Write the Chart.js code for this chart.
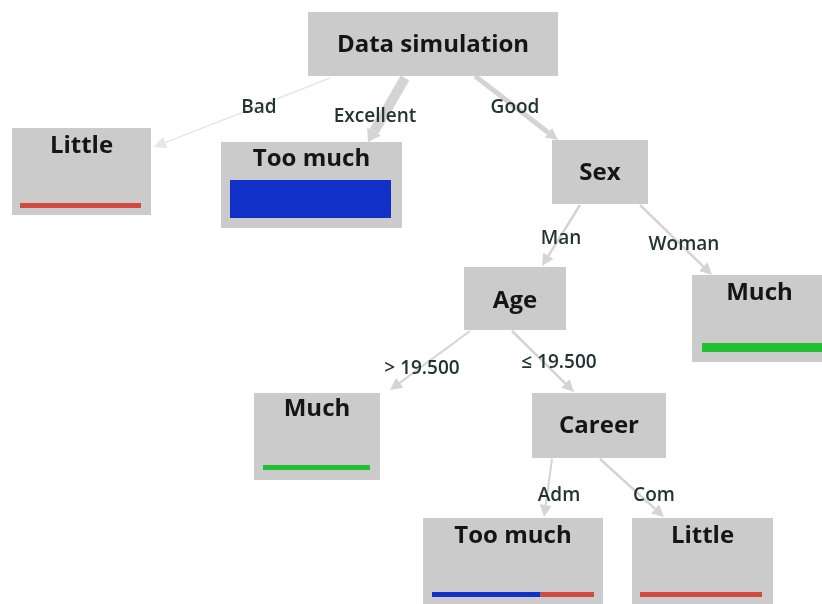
<!DOCTYPE html>
<html><head><meta charset="utf-8">
<script src="https://cdn.jsdelivr.net/npm/chart.js@4/dist/chart.umd.min.js"></script>
<style>html,body{margin:0;padding:0;background:#fff}canvas{display:block}</style>
</head><body>
<canvas id="c" width="822" height="604"></canvas>
<script>
// ---- data ----
const nodeNames = ['Data simulation','Little','Too much','Sex','Age','Much','Much','Career','Too much','Little'];
const nodeParent = [-1,0,0,0,3,3,4,4,7,7];
const edgeLabels = ['', 'Bad','Excellent','Good','Man','Woman','> 19.500','\u2264 19.500','Adm','Com'];
const edgeWeight = [0, 1.5, 10, 5, 2.5, 2.5, 2, 2.5, 2, 2.5];
const classNames = ['Too much','Much','Little'];
const classColors = ['#1030c8','#20c030','#d04a40'];
// class distribution per node (Too much, Much, Little); null = internal node
const distTooMuch = [null, 0, 1, null, null, 0, 0, null, 0.67, 0];
const distMuch    = [null, 0, 0, null, null, 1, 1, null, 0,    0];
const distLittle  = [null, 1, 0, null, null, 0, 0, null, 0.33, 1];

// ---- layout (chart units == pixels) ----
const layout = [
  {x:308,y:12,w:250,h:64},
  {x:12,y:128,w:139,h:87},
  {x:221,y:142,w:181,h:86},
  {x:552,y:140,w:96,h:64},
  {x:464,y:267,w:102,h:63},
  {x:692,y:275,w:135,h:87},
  {x:254,y:393,w:126,h:87},
  {x:532,y:393,w:134,h:65},
  {x:423,y:518,w:180,h:90},
  {x:632,y:518,w:141,h:90}
];
const titleY = [45,146,159,173,301,293,409,426,536,536];
const barBox = [null,{y:203,h:5,x0:20,x1:141},{y:180,h:38,x0:230,x1:391},null,null,
  {y:343,h:9,x0:702,x1:822},{y:465,h:5,x0:263,x1:370},null,{y:592,h:5,x0:432,x1:594},{y:592,h:5,x0:640,x1:762}];
const edgeGeom = [null,
  {a:[330,78],b:[154,147],lx:259,ly:108},
  {a:[405,78],b:[368,142],lx:375,ly:117},
  {a:[475,76],b:[558,140],lx:515,ly:108},
  {a:[580,205],b:[542,266],lx:561,ly:239},
  {a:[640,205],b:[712,275],lx:684,ly:245},
  {a:[470,331],b:[390,390],lx:422,ly:369},
  {a:[512,331],b:[574,392],lx:559,ly:363},
  {a:[552,459],b:[544,517],lx:559,ly:496},
  {a:[600,459],b:[664,517],lx:654,ly:496}
];

const treePlugin = {
  id:'tree',
  afterDatasetsDraw(chart){
    const ctx = chart.ctx, X = chart.scales.x, Y = chart.scales.y;
    const px = v=>X.getPixelForValue(v), py = v=>Y.getPixelForValue(v);
    ctx.save();
    // edges
    for(let i=1;i<nodeNames.length;i++){
      const g = edgeGeom[i];
      const ax=px(g.a[0]), ay=py(g.a[1]), bx=px(g.b[0]), by=py(g.b[1]);
      const w = edgeWeight[i];
      const col = i===1 ? '#e6e6e6' : '#d4d4d4';
      const ang = Math.atan2(by-ay,bx-ax);
      const hl = 12, hw = Math.max(6, w*0.8);
      const ex = bx - Math.cos(ang)*hl, ey = by - Math.sin(ang)*hl;
      ctx.strokeStyle = col; ctx.lineWidth = w; ctx.lineCap='butt';
      ctx.beginPath(); ctx.moveTo(ax,ay); ctx.lineTo(ex,ey); ctx.stroke();
      ctx.fillStyle = col;
      ctx.beginPath(); ctx.moveTo(bx,by);
      ctx.lineTo(ex - Math.sin(ang)*hw, ey + Math.cos(ang)*hw);
      ctx.lineTo(ex + Math.sin(ang)*hw, ey - Math.cos(ang)*hw);
      ctx.closePath(); ctx.fill();
    }
    // nodes
    for(let i=0;i<nodeNames.length;i++){
      const L = layout[i];
      const x0=px(L.x), y0=py(L.y), x1=px(L.x+L.w), y1=py(L.y+L.h);
      ctx.fillStyle='#cbcbcb';
      ctx.fillRect(x0,y0,x1-x0,y1-y0);
      ctx.fillStyle='#151515';
      ctx.font='bold 24px "Open Sans", sans-serif';
      ctx.textAlign='center'; ctx.textBaseline='middle';
      ctx.fillText(nodeNames[i], (x0+x1)/2, py(titleY[i]));
      const B = barBox[i];
      if(B && distTooMuch[i]!==null){
        const fr=[distTooMuch[i],distMuch[i],distLittle[i]];
        let cx = px(B.x0); const tot = px(B.x1)-px(B.x0);
        for(let k=0;k<3;k++){
          if(fr[k]<=0) continue;
          const wk = tot*fr[k];
          ctx.fillStyle=classColors[k];
          ctx.fillRect(cx, py(B.y), wk, py(B.y+B.h)-py(B.y));
          cx += wk;
        }
      }
    }
    // edge labels
    ctx.font='600 19px "Open Sans", sans-serif';
    ctx.fillStyle='#233530';
    for(let i=1;i<nodeNames.length;i++){
      const g=edgeGeom[i];
      ctx.fillText(edgeLabels[i], px(g.lx), py(g.ly));
    }
    ctx.restore();
  }
};

new Chart(document.getElementById('c'),{
  type:'scatter',
  data:{datasets:[{data:layout.map((L,i)=>({x:L.x+L.w/2,y:titleY[i]})),pointRadius:0}]},
  options:{
    responsive:false, animation:false,
    layout:{padding:0},
    plugins:{legend:{display:false},tooltip:{enabled:false}},
    scales:{
      x:{type:'linear',min:0,max:822,display:false},
      y:{type:'linear',min:0,max:604,reverse:true,display:false}
    }
  },
  plugins:[treePlugin]
});
</script>
</body></html>
